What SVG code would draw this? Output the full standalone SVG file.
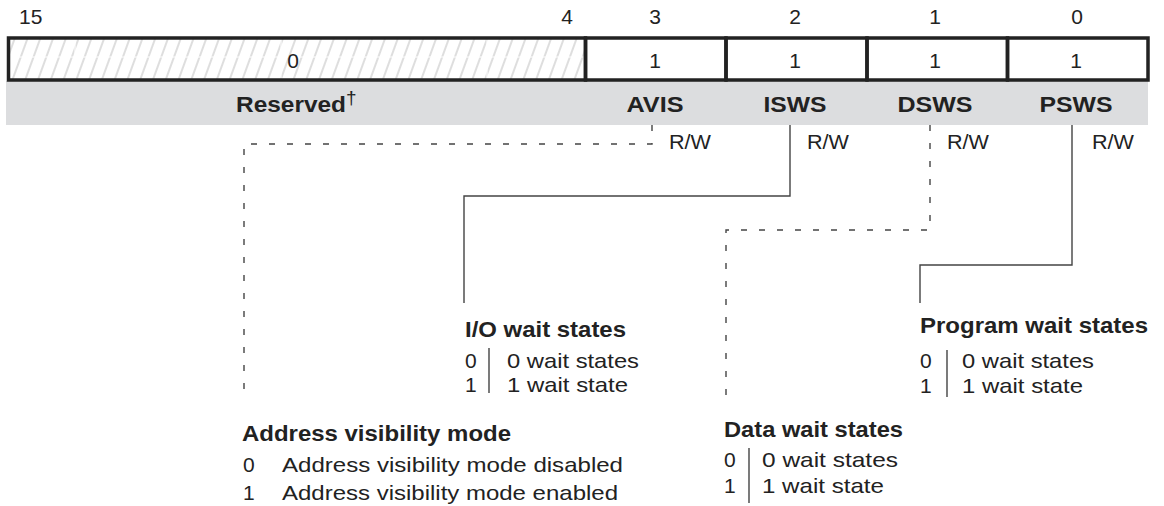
<svg xmlns="http://www.w3.org/2000/svg" width="1164" height="506" viewBox="0 0 1164 506">
<style>
  text { font-family: "Liberation Sans", Arial, sans-serif; fill: #222; }
  .r { font-size: 21px; }
  .b { font-size: 22px; font-weight: bold; }
  .m { text-anchor: middle; }
  .cell { fill: none; stroke: #222; stroke-width: 3.5; }
  .solid { fill: none; stroke: #444; stroke-width: 1.4; }
  .dash { fill: none; stroke: #444; stroke-width: 1.4; stroke-dasharray: 6 12; }
  .div { stroke: #333; stroke-width: 1.3; }
</style>
<defs>
  <pattern id="hatch" patternUnits="userSpaceOnUse" width="12" height="40" patternTransform="rotate(20)">
    <line x1="3" y1="0" x2="3" y2="40" stroke="#d6d6d6" stroke-width="1.6"/>
  </pattern>
</defs>
<rect width="1164" height="506" fill="#fff"/>

<g id="bit-numbers">
  <text class="r" x="19" y="24">15</text>
  <text class="r m" x="567" y="24">4</text>
  <text class="r m" x="655" y="24">3</text>
  <text class="r m" x="795" y="24">2</text>
  <text class="r m" x="935" y="24">1</text>
  <text class="r m" x="1077" y="24">0</text>
</g>

<g id="field-band">
  <rect x="6" y="81" width="1142" height="44" fill="#dcdddf"/>
</g>

<g id="register">
  <rect x="8.5" y="38" width="577" height="42" fill="url(#hatch)"/>
  <line x1="8" y1="57" x2="585" y2="57" stroke="#fff" stroke-width="1"/>
  <line x1="75" y1="38" x2="75" y2="80" stroke="#fff" stroke-width="1"/>
  <line x1="281" y1="38" x2="281" y2="80" stroke="#fff" stroke-width="1"/>
  <line x1="487" y1="38" x2="487" y2="80" stroke="#fff" stroke-width="1"/>
  <rect class="cell" x="8.5" y="38" width="577" height="42"/>
  <rect class="cell" x="585.5" y="38" width="140.5" height="42"/>
  <rect class="cell" x="726" y="38" width="141" height="42"/>
  <rect class="cell" x="867" y="38" width="140.5" height="42"/>
  <rect class="cell" x="1007.5" y="38" width="140.5" height="42"/>
  <text class="r m" x="293" y="68">0</text>
  <text class="r m" x="655" y="68">1</text>
  <text class="r m" x="795" y="68">1</text>
  <text class="r m" x="935" y="68">1</text>
  <text class="r m" x="1076" y="68">1</text>
</g>

<g id="field-reserved">
  <text class="b" x="236" y="112" textLength="110" lengthAdjust="spacingAndGlyphs">Reserved</text>
  <text class="r" x="346" y="104" style="font-size:19px">†</text>
</g>
<g id="field-avis">
  <text class="b m" x="655" y="112" textLength="57" lengthAdjust="spacingAndGlyphs">AVIS</text>
  <text class="r" x="669" y="149" textLength="42" lengthAdjust="spacingAndGlyphs">R/W</text>
</g>
<g id="field-isws">
  <text class="b m" x="795" y="112" textLength="63" lengthAdjust="spacingAndGlyphs">ISWS</text>
  <text class="r" x="807" y="149" textLength="42" lengthAdjust="spacingAndGlyphs">R/W</text>
</g>
<g id="field-dsws">
  <text class="b m" x="935" y="112" textLength="75" lengthAdjust="spacingAndGlyphs">DSWS</text>
  <text class="r" x="947" y="149" textLength="42" lengthAdjust="spacingAndGlyphs">R/W</text>
</g>
<g id="field-psws">
  <text class="b m" x="1076" y="112" textLength="73" lengthAdjust="spacingAndGlyphs">PSWS</text>
  <text class="r" x="1092" y="149" textLength="42" lengthAdjust="spacingAndGlyphs">R/W</text>
</g>

<g id="connectors">
  <path class="dash" d="M652,125 V144 H244 V397"/>
  <path class="solid" d="M790,125 V196 H464 V303"/>
  <path class="dash" d="M930,125 V230 H726 V407"/>
  <path class="solid" d="M1072,125 V265 H920 V303"/>
</g>

<g id="io-wait-states">
  <text class="b" x="465" y="337" textLength="161" lengthAdjust="spacingAndGlyphs">I/O wait states</text>
  <text class="r" x="465" y="368">0</text>
  <text class="r" x="465" y="392">1</text>
  <line class="div" x1="489" y1="348" x2="489" y2="393"/>
  <text class="r" x="507" y="368" textLength="132" lengthAdjust="spacingAndGlyphs">0 wait states</text>
  <text class="r" x="507" y="392" textLength="121" lengthAdjust="spacingAndGlyphs">1 wait state</text>
</g>

<g id="address-visibility-mode">
  <text class="b" x="242" y="441" textLength="269" lengthAdjust="spacingAndGlyphs">Address visibility mode</text>
  <text class="r" x="243" y="472">0</text>
  <text class="r" x="243" y="500">1</text>
  <text class="r" x="282" y="472" textLength="341" lengthAdjust="spacingAndGlyphs">Address visibility mode disabled</text>
  <text class="r" x="282" y="500" textLength="336" lengthAdjust="spacingAndGlyphs">Address visibility mode enabled</text>
</g>

<g id="data-wait-states">
  <text class="b" x="724" y="437" textLength="179" lengthAdjust="spacingAndGlyphs">Data wait states</text>
  <text class="r" x="724" y="467">0</text>
  <text class="r" x="724" y="493">1</text>
  <line class="div" x1="749" y1="448" x2="749" y2="503"/>
  <text class="r" x="762" y="467" textLength="136" lengthAdjust="spacingAndGlyphs">0 wait states</text>
  <text class="r" x="762" y="493" textLength="122" lengthAdjust="spacingAndGlyphs">1 wait state</text>
</g>

<g id="program-wait-states">
  <text class="b" x="920" y="333" textLength="228" lengthAdjust="spacingAndGlyphs">Program wait states</text>
  <text class="r" x="920" y="368">0</text>
  <text class="r" x="920" y="393">1</text>
  <line class="div" x1="947" y1="350" x2="947" y2="397"/>
  <text class="r" x="962" y="368" textLength="132" lengthAdjust="spacingAndGlyphs">0 wait states</text>
  <text class="r" x="962" y="393" textLength="121" lengthAdjust="spacingAndGlyphs">1 wait state</text>
</g>
</svg>
